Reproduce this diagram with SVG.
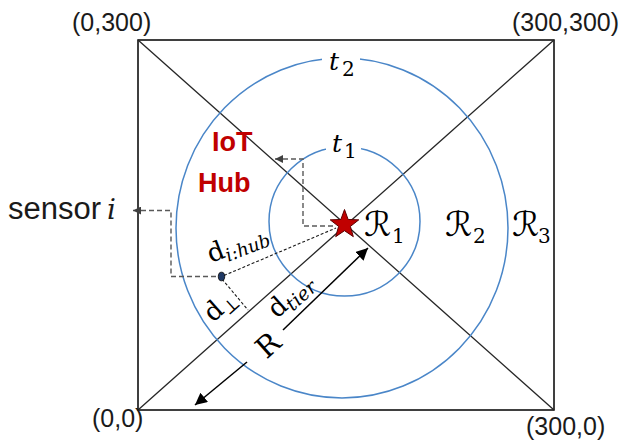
<svg xmlns="http://www.w3.org/2000/svg" width="625" height="442" viewBox="0 0 625 442">
  <style>
    .frame { fill: none; stroke: #000; stroke-width: 1.5; }
    .diag { stroke: #262626; stroke-width: 1.3; fill: none; }
    .tier { fill: none; stroke: #4a86c8; stroke-width: 1.5; }
    .lead { fill: none; stroke: #595959; stroke-width: 1.4; stroke-dasharray: 5 3; }
    .meas { fill: none; stroke: #1a1a1a; stroke-width: 1.1; stroke-dasharray: 3 2; }
    .arrow { fill: none; stroke: #000; stroke-width: 1.5; }
    .coord { font-family: "Liberation Sans", Arial, sans-serif; font-size: 25px; fill: #1a1a1a; }
    .hub { font-family: "Liberation Sans", Arial, sans-serif; font-weight: bold; font-size: 27px; fill: #c00000; }
    .math { font-family: "DejaVu Serif", "Liberation Serif", serif; fill: #000; }
    .it { font-style: italic; }
    .scr { font-family: "DejaVu Serif", "DejaVu Sans", "Liberation Serif", serif; font-size: 34px; fill: #000; }
    .sub { font-family: "DejaVu Serif", "Liberation Serif", serif; font-size: 20px; fill: #000; font-style: normal; }
  </style>
  <defs>
    <marker id="grayHead" viewBox="0 0 10 10" refX="10" refY="5" markerWidth="8" markerHeight="8" markerUnits="userSpaceOnUse" orient="auto">
      <path d="M0,0 L10,5 L0,10 z" fill="#404040"/>
    </marker>
    <marker id="blackHead" viewBox="0 0 10 10" refX="10" refY="5" markerWidth="12" markerHeight="12" markerUnits="userSpaceOnUse" orient="auto">
      <path d="M0,0 L10,5 L0,10 z" fill="#000"/>
    </marker>
  </defs>
  <rect width="625" height="442" fill="#fff"/>

  <g id="area">
    <rect class="frame" x="138" y="40" width="416" height="370"/>
    <line class="diag" x1="138" y1="40" x2="554" y2="410"/>
    <line class="diag" x1="138" y1="410" x2="554" y2="40"/>
  </g>

  <g id="tiers">
    <ellipse class="tier" cx="342" cy="228" rx="166" ry="170"/>
    <ellipse class="tier" cx="344.5" cy="221.5" rx="75.5" ry="74.5"/>
    <rect x="322" y="50" width="38" height="16" fill="#fff"/>
    <rect x="326" y="139" width="35" height="16" fill="#fff"/>
  </g>

  <g id="connectors">
    <polyline class="lead" points="333,226 303,226 303,159 275,159" marker-end="url(#grayHead)"/>
    <polyline class="lead" points="216,276.5 171,276.5 171,210.5 133,210.5" marker-end="url(#grayHead)"/>
    <line class="meas" x1="224" y1="275.5" x2="336" y2="228"/>
    <line class="meas" x1="222" y1="279" x2="248" y2="310"/>
    <line class="arrow" x1="283" y1="330" x2="368" y2="248" marker-end="url(#blackHead)"/>
    <line class="arrow" x1="247" y1="362" x2="195" y2="405" marker-end="url(#blackHead)"/>
  </g>

  <g id="iot-hub">
    <polygon points="344.5,209.5 348.14,219.48 358.77,219.86 350.4,226.42 353.32,236.64 344.5,230.7 335.68,236.64 338.6,226.42 330.23,219.86 340.86,219.48" fill="#c00000" stroke="#5a0000" stroke-width="1"/>
    <text class="hub" x="212" y="151">IoT</text>
    <text class="hub" x="198" y="192">Hub</text>
  </g>

  <g id="sensor-i">
    <ellipse cx="221.5" cy="276.5" rx="3.2" ry="4.3" fill="#1f3864" stroke="#000" stroke-width="0.8"/>
    <text x="8" y="219" font-family="Liberation Sans, Arial, sans-serif" font-size="31" fill="#1a1a1a">sensor</text>
    <text x="107" y="219" font-family="DejaVu Serif, serif" font-style="italic" font-size="28" fill="#1a1a1a">i</text>
  </g>

  <g id="corner-labels">
    <text class="coord" x="72" y="31">(0,300)</text>
    <text class="coord" x="512" y="31">(300,300)</text>
    <text class="coord" x="92" y="427">(0,0)</text>
    <text class="coord" x="526" y="435">(300,0)</text>
  </g>

  <g id="tier-labels">
    <text class="math it" x="329" y="70" font-size="25">t<tspan class="sub" x="342" y="76" font-size="18">2</tspan></text>
    <text class="math it" x="332" y="152" font-size="25">t<tspan class="sub" x="344" y="158" font-size="18">1</tspan></text>
  </g>

  <g id="region-labels">
    <text class="scr" x="364" y="236">ℛ<tspan class="sub" x="392" y="243" font-size="22">1</tspan></text>
    <text class="scr" x="445" y="236">ℛ<tspan class="sub" x="473" y="243" font-size="22">2</tspan></text>
    <text class="scr" x="512" y="236">ℛ<tspan class="sub" x="538" y="243" font-size="22">3</tspan></text>
  </g>

  <g id="distance-labels">
    <text class="math" transform="translate(211,263) rotate(-21)" font-size="26">d<tspan class="it" font-size="18" dy="5">i:hub</tspan></text>
    <text class="math" transform="translate(213,323) rotate(-41.6)" font-size="26">d<tspan font-size="18" dy="5">⊥</tspan></text>
    <text class="math" transform="translate(277,319) rotate(-41.6)" font-size="26">d<tspan class="it" font-size="19" dy="5">tier</tspan></text>
    <text class="math" transform="translate(268,345) rotate(-41.6)" font-size="29" text-anchor="middle" y="10">R</text>
  </g>
</svg>
